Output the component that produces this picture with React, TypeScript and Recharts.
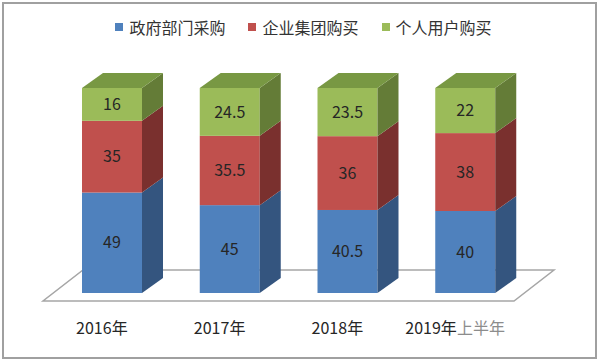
import React from 'react'
import { BarChart, Bar, XAxis, YAxis, Legend, LabelList } from 'recharts'

const categories = ['2016年', '2017年', '2018年', '2019年上半年']
const seriesNames = ['政府部门采购', '企业集团购买', '个人用户购买']
const government = [49, 45, 40.5, 40]
const enterprise = [35, 35.5, 36, 38]
const personal = [16, 24.5, 23.5, 22]

const data = categories.map((name, i) => ({
  name,
  gov: government[i],
  ent: enterprise[i],
  per: personal[i],
}))

const W = 600
const H = 361
const MARGIN = { top: 12, right: 76, left: 53, bottom: 0 }
const PLOT_LEFT = MARGIN.left
const PLOT_RIGHT = W - MARGIN.right
const LEGEND_H = 76

// oblique depth of the boxes and of the floor
const DX = 21
const DY = 15
const FLOOR_FRONT = 8
const FLOOR_BACK = 23

const FONT = '"Noto Sans CJK SC", "Noto Sans", sans-serif'
const TEXT = '#262626'

interface BoxProps {
  x?: number
  y?: number
  width?: number
  height?: number
  index?: number
  front: string
  side: string
  top?: string
  floor?: boolean
}

function Box3D({ x = 0, y = 0, width = 0, height = 0, index, front, side, top, floor }: BoxProps) {
  const r = x + width
  const b = y + height
  return (
    <g>
      {floor && index === 0 && (
        <polygon
          points={`${PLOT_LEFT - 10},${b + FLOOR_FRONT} ${PLOT_RIGHT - 10},${b + FLOOR_FRONT} ${PLOT_RIGHT + 30},${b - FLOOR_BACK} ${PLOT_LEFT + 30},${b - FLOOR_BACK}`}
          fill="#fff"
          stroke="#a6a6a6"
          strokeWidth={1.5}
        />
      )}
      <rect x={x} y={y} width={width} height={height} fill={front} />
      <polygon
        points={`${r},${y} ${r + DX},${y - DY} ${r + DX},${b - DY} ${r},${b}`}
        fill={side}
      />
      {top && (
        <polygon
          points={`${x},${y} ${x + DX},${y - DY} ${r + DX},${y - DY} ${r},${y}`}
          fill={top}
        />
      )}
    </g>
  )
}

function CategoryTick({ x, y, payload }: any) {
  const m = String(payload.value).match(/^(\d+年)(.*)$/)
  const head = m ? m[1] : payload.value
  const tail = m ? m[2] : ''
  return (
    <text
      x={x - 10}
      y={y + 26}
      textAnchor="middle"
      dominantBaseline="central"
      fontSize={16}
      fontFamily={FONT}
      fill={TEXT}
    >
      {head}
      {tail && <tspan fill="#8c8c8c">{tail}</tspan>}
    </text>
  )
}

function LegendContent({ payload }: any) {
  const items = [...(payload || [])].sort(
    (a: any, b: any) => seriesNames.indexOf(a.value) - seriesNames.indexOf(b.value)
  )
  return (
    <div style={{ height: LEGEND_H, display: 'flex', justifyContent: 'center', paddingLeft: 7 }}>
      {items.map((item: any, i: number) => (
        <div
          key={i}
          style={{ display: 'flex', alignItems: 'center', height: 30, marginRight: i < 2 ? 23 : 0 }}
        >
          <span style={{ width: 8, height: 8, background: item.color, marginRight: 6 }} />
          <span style={{ fontSize: 16, color: '#333', fontFamily: FONT }}>{item.value}</span>
        </div>
      ))}
    </div>
  )
}

export default function App() {
  return (
    <div
      style={{
        position: 'absolute',
        left: 0,
        top: 0,
        width: W,
        height: H,
        background: '#fff',
        fontFamily: FONT,
      }}
    >
      <div
        style={{
          position: 'absolute',
          left: 2,
          top: 2,
          width: 595,
          height: 357,
          border: '2px solid #a0a0a0',
          boxSizing: 'border-box',
          pointerEvents: 'none',
        }}
      />
      {/* 100% stacked: each column is scaled to its own total */}
      <BarChart width={W} height={H} data={data} margin={MARGIN} barSize={60} stackOffset="expand">
        <XAxis
          dataKey="name"
          height={68}
          axisLine={false}
          tickLine={false}
          interval={0}
          tick={<CategoryTick />}
        />
        <YAxis hide domain={[0, 1]} />
        <Legend
          verticalAlign="top"
          content={<LegendContent />}
          wrapperStyle={{ left: 0, width: W, top: MARGIN.top }}
        />
        <Bar
          dataKey="gov"
          name={seriesNames[0]}
          stackId="a"
          fill="#4F81BD"
          isAnimationActive={false}
          shape={(p: any) => <Box3D {...p} front="#4F81BD" side="#34557F" floor />}
        >
          <LabelList dataKey="gov" position="center" fill={TEXT} fontSize={16} fontFamily={FONT} />
        </Bar>
        <Bar
          dataKey="ent"
          name={seriesNames[1]}
          stackId="a"
          fill="#C0504D"
          isAnimationActive={false}
          shape={(p: any) => <Box3D {...p} front="#C0504D" side="#7A302E" />}
        >
          <LabelList dataKey="ent" position="center" fill={TEXT} fontSize={16} fontFamily={FONT} />
        </Bar>
        <Bar
          dataKey="per"
          name={seriesNames[2]}
          stackId="a"
          fill="#9BBB59"
          isAnimationActive={false}
          shape={(p: any) => <Box3D {...p} front="#9BBB59" side="#647C37" top="#789843" />}
        >
          <LabelList dataKey="per" position="center" fill={TEXT} fontSize={16} fontFamily={FONT} />
        </Bar>
      </BarChart>
    </div>
  )
}
